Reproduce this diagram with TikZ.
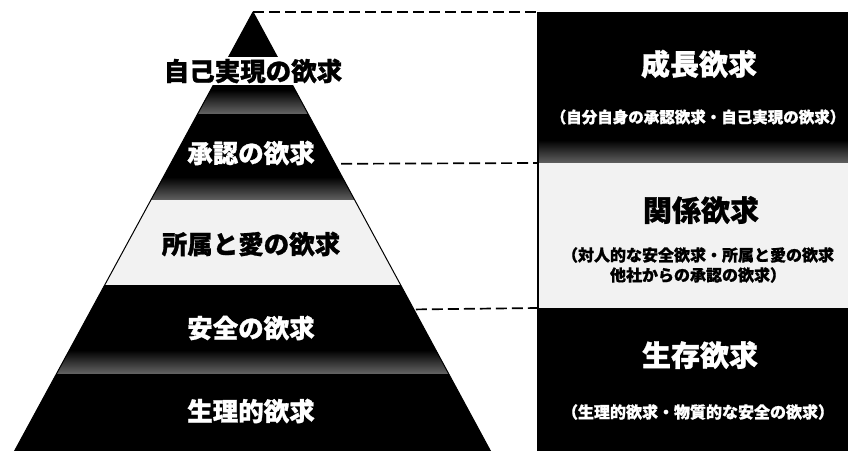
\documentclass[tikz,border=0pt]{standalone}
\usepackage{fontspec}
\newfontfamily\jp{Noto Sans CJK JP}[BoldFeatures={FakeBold=1}]
\usetikzlibrary{calc}
\begin{document}
\begin{tikzpicture}[x=1pt,y=-1pt,
  lab/.style={font=\jp\bfseries\fontsize{25.5}{28}\selectfont, inner sep=0pt},
  head/.style={font=\jp\bfseries\fontsize{29}{32}\selectfont, inner sep=0pt},
  sub/.style={font=\jp\bfseries\fontsize{16}{20}\selectfont, inner sep=0pt, align=center},
  link/.style={dash pattern=on 11pt off 5pt, line width=1.7pt},
  fade/.style={top color=black, bottom color=black!62, draw=none},
  band/.style={anchor=north west, minimum width=312pt, inner sep=0pt, outer sep=0pt, draw=none}]
\useasboundingbox (0,0) rectangle (848,450);
\fill[white] (0,0) rectangle (848,450);
% pyramid
\coordinate (apex) at (253,12);
\coordinate (bl) at (14,452);
\coordinate (br) at (491,452);
\begin{scope}
  \clip (apex) -- (bl) -- (br) -- cycle;
  \fill[black] (0,0) rectangle (520,200);
  \shade[fade] (0,90) rectangle (520,113);
  \shade[fade] (0,177) rectangle (520,200);
  \fill[black!5] (0,200) rectangle (520,285);
  \fill[black] (0,285) rectangle (520,455);
  \shade[fade] (0,350) rectangle (520,373);
\end{scope}
\draw[line width=1pt, line join=round] (apex) -- (bl) -- (br) -- cycle;
% right column
\node[band, fill=black, minimum height=151pt] (grow) at (538,12) {};
\shade[fade] (538,140) rectangle (850,163);
\node[band, fill=black!5, minimum height=145pt] (rel) at (538,163) {};
\node[band, fill=black, minimum height=144pt] (exist) at (538,308) {};
\draw[line width=1.2pt] (grow.north west) -- (exist.south west);
% connectors
\coordinate (e2) at ($(apex)!0.345!(br)$);
\coordinate (e3) at ($(apex)!0.676!(br)$);
\draw[link] (apex) -- (grow.north west);
\draw[link, shorten <=6pt] (e2) -- (rel.north west);
\draw[link, shorten <=2pt] (e3) -- (exist.north west);
% pyramid labels
\node[lab, fill=white, inner sep=1.5pt] (l1) at (253,71) {自己実現の欲求};
\node[lab, white] (l2) at (251,153) {承認の欲求};
\node[lab] (l3) at (251,244) {所属と愛の欲求};
\node[lab, white] (l4) at (251,328) {安全の欲求};
\node[lab, white] (l5) at (251,411) {生理的欲求};
% right labels
\node[head, white] (h1) at (699,64) {成長欲求};
\node[sub, white, font=\jp\bfseries\fontsize{15.5}{20}\selectfont] (s1) at (698,117) {（自分自身の承認欲求・自己実現の欲求）};
\node[head] (h2) at (701,210) {関係欲求};
\node[sub] (s2) at (698,265) {（対人的な安全欲求・所属と愛の欲求\\他社からの承認の欲求）};
\node[head, white] (h3) at (700,355) {生存欲求};
\node[sub, white] (s3) at (698,412) {（生理的欲求・物質的な安全の欲求）};
\end{tikzpicture}
\end{document}
